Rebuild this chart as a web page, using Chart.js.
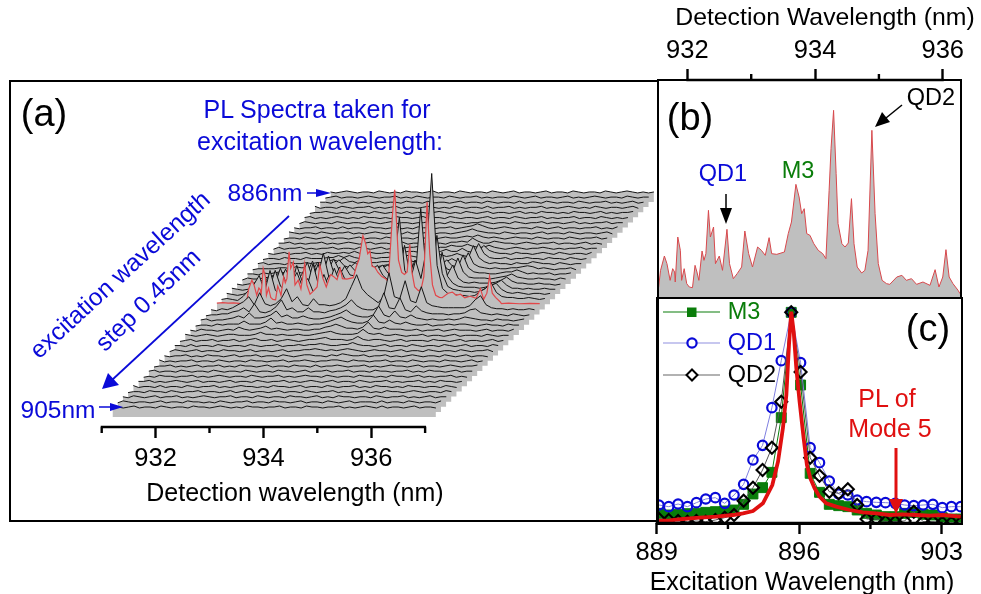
<!DOCTYPE html>
<html>
<head>
<meta charset="utf-8">
<title>PL spectra</title>
<script src="https://cdn.jsdelivr.net/npm/chart.js@4"></script>
<style>
  html, body { margin: 0; background: #fff; }
  #page { position: relative; width: 981px; height: 594px; overflow: hidden; font-family: "Liberation Sans", Arial, sans-serif; }
  #page canvas { position: absolute; }
  .frame { position: absolute; border: 2.7px solid #000; box-sizing: border-box; }
  .t { position: absolute; white-space: nowrap; transform: translate(-50%, -50%); line-height: 1; }
  .blue { color: #0a0ad8; }
  .green { color: #0a7d0a; }
  .red { color: #e01010; }
  svg { position: absolute; left: 0; top: 0; }
</style>
</head>
<body>
<div id="page">
  <canvas id="chartA" style="left:0;top:0"></canvas>
  <canvas id="chartB" style="left:620px;top:0"></canvas>
  <canvas id="chartC" style="left:620px;top:280px"></canvas>

  <div class="frame" style="left:9px;top:80px;width:650px;height:442px"></div>
  <div class="frame" style="left:657px;top:79px;width:305px;height:220px"></div>
  <div class="frame" style="left:656px;top:297px;width:307px;height:228px"></div>

  <svg width="981" height="594">
    <path d="M307 193H316" stroke="#0a0ad8" stroke-width="1.5"/><path d="M316 189L331 193L316 197z" fill="#0a0ad8"/>
    <path d="M99 407H110" stroke="#0a0ad8" stroke-width="1.5"/><path d="M110 403L123 407L110 411z" fill="#0a0ad8"/>
    <path d="M289 216L112 380" stroke="#0a0ad8" stroke-width="1.8"/><path d="M102 389L108 373L119 385z" fill="#0a0ad8"/>
    <path d="M726 194V210" stroke="#000" stroke-width="1.5"/><path d="M720 208H732L726 224z" fill="#000"/>
    <path d="M902 105L886 118" stroke="#000" stroke-width="1.5"/><path d="M875 127L882 112L890 122z" fill="#000"/>
    <path d="M896 448V500" stroke="#e01010" stroke-width="3"/><path d="M889 499H903L896 514z" fill="#e01010"/>
    <path d="M663 312H720" stroke="#0a7d0a" stroke-width="1.2"/><rect x="687" y="307.5" width="9.5" height="9.5" fill="#0a7d0a"/>
    <path d="M663 343H720" stroke="#8f8fe0" stroke-width="1.2"/><circle cx="692" cy="343" r="4.6" fill="#fff" stroke="#0a0ad8" stroke-width="2.2"/>
    <path d="M663 375H720" stroke="#666" stroke-width="1.2"/><path d="M692 369.5L697.5 375L692 380.5L686.5 375z" fill="#fff" stroke="#000" stroke-width="2"/>
  </svg>

  <div class="t" style="left:44px;top:113px;font-size:38px">(a)</div>
  <div class="t blue" style="left:317px;top:109px;font-size:25px">PL Spectra taken for</div>
  <div class="t blue" style="left:320px;top:141px;font-size:25px">excitation wavelength:</div>
  <div class="t blue" style="left:265px;top:193px;font-size:24.5px">886nm</div>
  <div class="t blue" style="left:58px;top:410px;font-size:24.5px">905nm</div>
  <div class="t blue" style="left:120px;top:275px;font-size:24.5px;transform:translate(-50%,-50%) rotate(-42.5deg)">excitation wavelength</div>
  <div class="t blue" style="left:148px;top:300px;font-size:24.5px;transform:translate(-50%,-50%) rotate(-44deg)">step 0.45nm</div>
  <div class="t" style="left:295px;top:492px;font-size:25px">Detection wavelength (nm)</div>

  <div class="t" style="left:825px;top:17px;font-size:24.8px">Detection Wavelength (nm)</div>
  <div class="t" style="left:690px;top:117px;font-size:38px">(b)</div>
  <div class="t blue" style="left:723px;top:174px;font-size:23.5px">QD1</div>
  <div class="t green" style="left:798px;top:171px;font-size:23.5px">M3</div>
  <div class="t" style="left:931px;top:98px;font-size:23.5px">QD2</div>

  <div class="t" style="left:928px;top:328px;font-size:38px">(c)</div>
  <div class="t green" style="left:744px;top:312px;font-size:23.5px">M3</div>
  <div class="t blue" style="left:752px;top:343px;font-size:23.5px">QD1</div>
  <div class="t" style="left:752px;top:375px;font-size:23.5px">QD2</div>
  <div class="t red" style="left:887px;top:398px;font-size:25px">PL of</div>
  <div class="t red" style="left:890px;top:428px;font-size:25px">Mode 5</div>
  <div class="t" style="left:802px;top:581px;font-size:25px">Excitation Wavelength (nm)</div>
</div>

<script>
// detection wavelength grid of the waterfall rows (nm)
const detectionWl = [
  931.2,931.3,931.4,931.5,931.6,931.7,931.8,931.9,932.0,932.1,
  932.2,932.3,932.4,932.5,932.6,932.7,932.8,932.9,933.0,933.1,
  933.2,933.3,933.4,933.5,933.6,933.7,933.8,933.9,934.0,934.1,
  934.2,934.3,934.4,934.5,934.6,934.7,934.8,934.9,935.0,935.1,
  935.2,935.3,935.4,935.5,935.6,935.7,935.8,935.9,936.0,936.1,
  936.2,936.3,936.4,936.5,936.6,936.7,936.8,936.9,937.0,937.1,
  937.2
];

// rows behind the red spectrum, 886 nm first
const backRows = [
  [1,0,1,2,1,0,1,1,0,2, 1,0,1,0,2,1,1,0,1,2, 0,1,1,0,2,1,0,1,1,0, 2,1,0,1,2,0,1,1,0,1, 2,0,1,1,0,2,1,0,1,1, 0,2,1,0,1,2,1,0,1,0, 1],
  [0,1,2,0,1,1,0,1,2,1, 0,1,1,2,0,1,0,2,1,0, 1,1,0,2,1,0,1,1,2,0, 1,0,1,1,0,2,1,0,1,2, 0,1,1,0,1,2,0,1,0,1, 2,1,0,1,1,0,2,1,0,1, 1],
  [1,1,0,2,0,1,2,0,1,0, 1,2,0,1,1,0,2,1,1,0, 2,0,1,1,0,1,2,0,1,1, 0,2,1,0,1,1,0,2,0,1, 1,0,2,1,0,1,1,0,2,1, 0,1,1,2,0,1,0,1,2,0, 1],
  [2,0,1,1,0,2,1,0,1,1, 2,0,1,0,1,2,0,1,1,0, 1,2,1,0,1,0,2,1,0,1, 1,0,2,0,1,1,2,0,1,0, 1,1,2,0,1,0,1,2,1,0, 1,0,2,1,0,1,1,0,1,2, 0],
  [0,1,1,2,1,0,1,0,2,1, 1,0,2,1,0,1,1,0,2,0, 1,1,0,1,2,1,0,1,0,2, 1,0,1,2,0,1,1,0,1,2, 0,1,0,2,1,1,0,1,0,2, 1,1,0,1,2,0,1,0,1,1, 2],
  [1,2,0,1,0,1,2,1,0,1, 0,2,1,1,0,1,0,2,1,1, 0,1,2,0,1,1,0,2,1,0, 1,1,0,1,2,0,1,1,0,2, 1,0,1,1,2,0,1,0,1,1, 2,0,1,1,0,2,1,0,1,0, 1],
  [0,2,1,0,1,1,0,2,1,0, 1,1,0,2,1,0,1,2,0,1, 1,0,1,1,2,0,1,0,2,1, 1,0,1,1,2,1,0,1,1,0, 2,1,0,1,1,2,0,1,1,0, 1,2,0,1,0,1,1,2,0,1, 1],
  [1,0,1,1,2,0,1,1,0,2, 0,1,1,0,2,1,1,0,1,2, 0,1,0,2,1,1,0,1,1,2, 0,1,2,3,5,3,1,0,1,2, 1,0,1,1,0,2,1,0,1,2, 0,1,1,0,1,1,2,0,1,0, 2],
  [2,1,0,1,1,0,2,1,0,1, 1,2,0,1,0,1,2,1,0,1, 1,0,2,0,1,1,2,0,1,1, 0,1,2,3,5,3,2,1,1,0, 2,1,0,1,1,0,1,2,0,1, 1,0,2,1,0,1,1,0,1,2, 0],
  [0,1,1,0,2,1,0,1,2,0, 1,1,0,1,2,0,1,1,0,2, 1,0,1,1,0,2,1,1,0,1, 2,1,1,2,3,2,4,2,1,2, 1,0,1,2,1,1,0,2,1,0, 1,1,0,2,1,0,1,1,2,0, 1],
  [1,1,2,0,1,0,1,1,2,0, 1,0,1,2,1,0,1,2,0,1, 1,0,1,2,0,1,1,0,2,1, 1,0,2,2,3,2,6,3,1,1, 3,2,1,1,0,1,2,1,0,1, 1,2,0,1,1,0,1,2,0,1, 0],
  [0,2,0,1,1,2,0,1,0,1, 1,2,0,1,1,0,2,1,0,1, 2,0,1,1,1,2,2,3,2,2, 1,2,2,4,3,3,5,3,2,2, 4,2,1,0,1,2,1,0,1,1, 2,1,0,1,0,1,1,2,0,1, 1],
  [1,0,1,2,0,1,1,2,0,1, 0,2,1,1,2,1,3,1,1,2, 1,1,2,1,2,2,3,3,2,2, 2,2,3,5,3,3,6,3,2,3, 9,4,2,1,1,0,2,1,1,0, 1,2,1,0,2,1,0,1,1,0, 2],
  [0,1,1,0,2,1,1,0,2,1, 1,1,2,2,4,2,4,2,1,3, 2,1,2,2,3,3,4,4,3,2, 2,3,3,5,3,4,6,4,3,5, 16,6,2,1,1,2,0,1,1,2, 1,1,0,2,1,1,0,2,1,0, 1],
  [1,2,0,1,1,0,2,1,1,2, 1,2,2,3,5,3,7,3,2,5, 3,2,2,3,3,4,5,6,4,3, 3,3,4,5,3,3,6,3,2,6, 19,7,3,1,2,1,1,0,2,1, 1,3,2,1,1,0,2,1,0,1, 1],
  [0,1,1,1,1,2,2,1,3,2, 2,2,3,4,8,4,10,4,2,7, 3,2,2,3,4,5,7,8,5,4, 3,4,5,8,5,4,10,4,3,6, 17,6,3,2,1,2,1,1,2,2, 3,4,3,1,2,1,0,1,1,2, 0],
  [1,1,0,2,1,2,3,2,5,3, 2,2,4,6,12,5,16,5,3,10, 4,3,3,4,5,7,9,12,7,5, 4,5,6,12,6,6,15,6,4,7, 20,7,3,2,2,1,1,2,3,3, 5,3,1,2,1,1,2,0,1,1, 2],
  [0,2,1,1,2,3,5,7,3,12, 4,3,5,9,18,7,24,7,4,14, 5,4,3,4,6,10,12,15,9,6, 5,6,8,18,8,9,22,7,5,8, 22,8,3,2,2,2,1,2,3,4, 6,3,2,1,1,2,1,1,0,2, 1],
  [1,0,1,2,3,4,7,10,4,16, 5,4,6,12,24,9,32,9,5,18, 6,5,4,5,8,13,16,20,12,8, 6,8,10,25,10,12,30,9,6,10, 20,7,3,2,3,2,2,2,3,5, 8,4,2,2,1,1,2,1,1,0, 1],
  [2,1,0,1,3,6,9,14,6,22, 8,5,8,16,28,12,26,9,7,22, 8,6,5,6,9,15,20,25,15,10, 8,10,14,35,14,18,50,14,9,38, 14,7,4,3,3,3,2,3,5,7, 10,5,2,2,1,2,1,1,2,1, 1],
  [2,1,0,1,3,7,12,18,8,25, 9,5,9,30,14,10,32,11,9,20, 10,8,8,9,13,18,24,30,22,16, 14,13,22,50,20,18,87,25,18,60, 22,9,6,5,4,4,3,4,7,10, 12,6,3,2,3,2,1,2,2,1, 2],
  [1,2,1,0,4,10,16,25,9,30, 10,6,10,18,28,14,22,9,12,26, 12,8,9,12,16,22,30,40,28,20, 16,18,35,83,30,20,40,22,50,127, 35,12,7,6,5,5,4,5,9,12, 18,8,4,3,3,2,2,3,2,1, 2]
];

// rows in front of the red spectrum, first the one just before it, 905 nm last
const frontRows = [
  [1,0,2,1,3,6,9,14,6,18, 7,5,7,12,22,9,14,6,5,12, 6,6,5,6,8,12,24,36,22,16, 12,8,14,38,14,12,30,10,8,24, 8,5,4,3,3,3,3,3,5,11, 15,6,3,2,2,1,2,1,1,2, 1],
  [0,1,1,2,2,4,5,8,4,12, 4,3,5,9,16,6,8,4,4,8, 4,4,3,5,6,8,11,16,10,7, 6,6,9,23,8,7,18,6,4,10, 5,3,2,2,2,1,2,2,3,6, 7,3,2,1,2,1,0,2,1,0, 1],
  [1,2,0,1,1,2,3,5,3,8, 3,3,4,6,10,4,6,3,3,5, 3,2,2,3,4,6,8,11,7,5, 4,4,6,15,6,4,10,4,3,6, 3,2,1,2,1,1,2,1,2,4, 3,2,1,1,0,2,1,1,0,1, 2],
  [0,1,1,0,2,1,2,2,2,5, 2,2,2,4,8,3,4,2,2,3, 2,1,2,2,3,5,7,9,6,4, 3,3,5,11,4,3,6,3,2,4, 2,1,1,2,0,1,1,2,1,2, 2,1,0,1,2,1,1,0,2,1, 1],
  [1,0,2,1,1,0,1,2,1,4, 2,1,2,3,5,2,3,2,1,2, 2,1,1,2,2,4,5,7,5,3, 3,2,4,9,3,2,4,2,2,2, 1,1,2,0,1,1,2,0,1,2, 1,1,1,0,1,2,0,1,1,0, 2],
  [2,1,0,1,2,1,0,1,2,2, 1,1,1,2,4,2,2,1,2,1, 1,2,1,1,2,3,4,5,3,2, 2,2,3,7,3,2,3,1,1,2, 1,0,1,1,2,0,1,1,0,1, 2,0,1,1,1,0,2,1,0,1, 1],
  [0,1,2,0,1,1,2,0,1,1, 2,0,1,2,3,1,1,2,0,1, 2,1,0,1,2,2,3,4,2,2, 2,1,2,5,2,1,2,2,1,0, 1,2,0,1,1,1,0,2,1,1, 0,1,2,0,1,1,0,1,2,0, 1],
  [1,1,0,2,0,1,1,0,2,1, 0,1,1,0,2,1,0,1,1,2, 0,1,1,2,1,2,2,3,2,1, 1,2,2,4,2,1,1,0,1,2, 0,1,1,0,2,1,0,1,1,0, 2,1,0,1,2,0,1,1,0,2, 1],
  [0,2,1,0,1,2,0,1,1,0, 2,1,1,0,1,2,0,1,1,0, 1,2,0,1,1,2,2,3,2,1, 2,1,2,3,2,1,0,1,2,1, 1,0,1,2,0,1,1,0,2,1, 0,1,1,0,2,1,0,1,1,2, 0],
  [1,0,1,1,2,0,1,0,2,1, 1,0,1,2,0,1,1,2,0,1, 1,0,2,1,0,1,2,2,1,1, 0,2,1,3,2,1,1,2,0,1, 1,2,0,1,0,1,2,1,0,1, 1,0,2,1,0,1,2,0,1,1, 0],
  [2,0,1,0,1,1,2,0,1,1, 0,2,1,0,1,1,0,2,1,1, 0,1,1,2,0,1,1,2,1,0, 1,1,2,2,1,0,2,1,1,0, 1,1,2,0,1,1,0,2,1,0, 1,1,0,2,1,1,0,1,2,0, 1],
  [0,1,1,2,0,1,0,1,2,0, 1,1,2,0,1,0,2,1,1,0, 1,2,0,1,1,0,2,1,1,0, 2,0,1,1,2,1,0,1,1,2, 0,1,0,1,2,1,1,0,1,2, 0,1,1,0,1,2,1,0,1,1, 2],
  [1,2,0,1,1,0,2,1,0,1, 1,0,2,1,0,1,1,0,2,1, 0,1,1,0,2,1,1,0,1,2, 0,1,1,2,0,1,1,2,0,1, 1,0,2,1,1,0,1,1,2,0, 1,0,2,1,1,0,1,2,0,1, 1],
  [0,1,0,2,1,1,0,1,1,2, 0,1,0,1,2,1,0,1,1,0, 2,1,0,1,1,2,0,1,0,1, 2,1,1,0,2,1,0,1,1,0, 2,1,1,0,1,0,2,1,1,0, 1,2,0,1,0,1,1,2,0,1, 0],
  [1,1,2,0,1,0,1,2,1,0, 1,2,0,1,1,0,1,2,0,1, 1,0,2,1,0,1,1,2,0,1, 0,1,2,1,0,1,2,0,1,1, 0,2,1,0,1,1,2,0,1,0, 1,1,2,0,1,0,2,1,1,0, 1],
  [2,0,1,1,0,2,0,1,1,0, 2,1,0,1,1,2,0,1,0,1, 2,1,1,0,1,0,2,1,1,0, 1,2,0,1,1,0,2,1,0,1, 1,2,0,1,0,2,1,1,0,1, 0,2,1,1,0,1,1,0,2,1, 0],
  [0,1,1,0,2,1,1,0,2,1, 0,1,1,2,0,1,1,0,1,2, 0,1,2,0,1,1,0,1,2,0, 1,1,0,2,1,0,1,1,2,0, 1,0,1,1,2,0,1,0,2,1, 1,0,1,2,1,0,1,1,0,2, 1],
  [1,0,2,1,0,1,2,0,1,1, 2,0,1,0,1,2,1,0,1,1, 2,0,1,1,0,2,1,0,1,1, 0,2,1,1,0,1,2,0,1,0, 2,1,1,0,1,1,0,2,1,0, 1,1,2,0,1,0,1,2,0,1, 1],
  [0,2,1,0,1,1,0,1,2,0, 1,1,0,2,1,1,0,1,0,2, 1,0,1,1,2,0,1,1,0,2, 1,1,0,1,2,0,1,1,0,2, 1,0,1,2,0,1,1,1,0,2, 0,1,1,0,2,1,0,1,1,0, 2],
  [1,1,0,1,2,0,1,1,0,2, 1,0,1,1,0,2,1,1,0,1, 2,1,0,1,0,2,1,1,0,1, 1,2,0,1,1,0,2,1,1,0, 1,1,2,0,1,0,1,2,1,0, 2,0,1,1,0,1,2,0,1,1, 0],
  [2,0,1,1,2,0,1,0,1,1, 2,0,1,2,0,1,1,0,2,1, 0,1,1,2,0,1,0,2,1,1, 0,1,2,0,1,1,1,0,2,1, 0,1,1,2,0,1,1,0,1,2, 1,0,1,0,2,1,1,0,1,2, 1]
];

// red spectrum (panel b), detection wavelength (nm) and counts
const spectrumWl = [
  931.52,931.55,931.58,931.64,931.68,931.73,931.77,931.80,931.81,931.85,931.89,931.91,931.95,931.99,
  932.03,932.08,932.12,932.15,932.18,932.23,932.26,932.29,932.33,932.36,932.41,932.44,932.50,932.55,
  932.62,932.66,932.72,932.78,932.85,932.90,932.96,933.02,933.10,933.16,933.22,933.28,933.32,933.40,
  933.52,933.58,933.63,933.70,933.75,933.79,933.83,933.87,933.92,933.98,934.05,934.12,934.17,934.22,
  934.25,934.29,934.33,934.36,934.42,934.47,934.52,934.57,934.61,934.66,934.73,934.78,934.83,934.89,
  934.94,934.99,935.05,935.12,935.17,935.28,935.36,935.43,935.51,935.59,935.69,935.80,935.88,935.94,
  936.00,936.05,936.10,936.16,936.24,936.27
];
const spectrumCounts = [
  0,30,80,123,100,50,85,75,45,180,140,50,85,40,
  30,28,95,75,50,138,110,130,260,180,210,100,123,80,
  203,100,55,70,90,198,130,90,150,140,125,178,130,128,
  135,190,225,338,300,250,265,190,185,160,140,130,115,320,
  445,560,370,220,160,150,162,295,160,90,72,80,140,500,
  250,100,50,40,38,60,65,50,55,38,45,35,82,30,
  60,142,60,40,20,10
];
// flat ends of the same spectrum that only panel (a) shows
const leftEndWl = [930.99,931.1,931.2,931.3,931.4,931.5];
const leftEndCounts = [12,14,12,13,11,8];
const rightEndWl = [936.4,936.6,936.8,936.98];
const rightEndCounts = [12,9,11,10];

// panel (c)
const excitationWl = [
  889.11,889.59,890.05,890.51,890.95,891.41,891.88,892.34,892.80,893.27,893.73,
  894.20,894.66,895.12,895.61,896.07,896.54,897.00,897.48,897.94,898.39,898.85,
  899.31,899.79,900.24,900.72,901.18,901.63,902.09,902.57,903.03,903.48,903.94
];
const m3Values = [29,24,26,28,29,32,34,36,39,56,87,106,152,316,632,414,149,92,56,52,49,39,29,24,19,19,29,32,26,24,16,12,12];
const qd1Values = [54,49,57,49,61,72,76,59,84,116,189,233,346,487,632,481,226,181,126,87,84,69,64,62,61,59,54,52,54,56,46,49,49];
const qd2Values = [12,9,6,4,6,4,9,16,24,67,106,159,226,364,632,453,196,142,94,89,101,54,12,12,4,4,6,34,4,4,1,1,1];
const mode5Wl = [
  889.0,889.64,890.29,891.11,891.93,892.75,893.24,893.73,894.22,894.68,894.96,895.2,895.37,895.5,895.61,
  895.73,895.86,896.02,896.22,896.38,896.55,896.76,897.0,897.33,897.82,898.48,899.13,899.79,900.44,901.09,
  901.75,902.4,903.06,903.94
];
const mode5Values = [6,8,12,16,19,24,29,36,59,114,184,284,384,534,634,574,464,364,254,174,134,104,79,59,49,39,32,29,24,26,24,22,24,19];

// tick labels
const ticksA = [931,932,933,934,935,936,937];
const ticksB = [932,933,934,935,936];
const ticksC = [889,892.5,896,899.5,903];
const labelledA = [932,934,936];
const labelledB = [932,934,936];
const labelledC = [889,896,903];

const redRow = 20;        // rows counted from the front
const rowStepX = 0.0963;  // nm per row on the oblique axis
const rowStepY = 5.12;
const stripDepth = 9;
const redShift = 0.22;
const redScale = 0.207;
const grey = '#bfbfbf';
const tickFont = { family: '"Liberation Sans", Arial, sans-serif', size: 25.5 };

Chart.defaults.animation = false;
Chart.defaults.responsive = false;

// short unlabelled ticks and the axis line, the library has one tick length only
const axisMarks = {
  id: 'axisMarks',
  afterDraw(chart) {
    const s = chart.scales.x, c = chart.ctx;
    const y = s.position === 'top' ? s.bottom : s.top;
    const dir = s.position === 'top' ? -1 : 1;
    c.save();
    c.strokeStyle = '#000';
    c.lineWidth = 2.4;
    c.beginPath();
    c.moveTo(s.getPixelForValue(s.ticks[0].value) - 1, y);
    c.lineTo(s.getPixelForValue(s.ticks[s.ticks.length - 1].value) + 1, y);
    s.ticks.forEach(t => {
      if (t.label === '') {
        const x = s.getPixelForValue(t.value);
        c.moveTo(x, y);
        c.lineTo(x, y + dir * 6);
      }
    });
    c.stroke();
    c.restore();
  }
};

function xScale(min, max, ticks, labelled, position, height, pad) {
  return {
    type: 'linear', min, max, position,
    border: { display: false },
    grid: {
      drawOnChartArea: false, tickLength: 11, tickWidth: 2.4,
      tickColor: ctx => labelled.includes(ctx.tick.value) ? '#000' : 'rgba(0,0,0,0)'
    },
    ticks: {
      autoSkip: false, maxRotation: 0, padding: pad, color: '#000', font: tickFont,
      callback: v => labelled.includes(v) ? String(v) : ''
    },
    afterBuildTicks: s => { s.ticks = ticks.map(v => ({ value: v })); },
    afterFit: s => { s.height = height; }
  };
}
function hiddenY(min, max) {
  return { type: 'linear', min, max, display: false };
}
function size(id, w, h) {
  const el = document.getElementById(id);
  el.width = w; el.height = h;
  return el;
}
const zip = (xs, ys) => xs.map((x, i) => ({ x, y: ys[i] }));

// panel (a): the waterfall, front row first so the library paints it last
const stack = [];
const rowAt = f => f > redRow ? backRows[backRows.length - (f - redRow)] : frontRows[redRow - 1 - f];
for (let f = 0; f <= redRow + backRows.length; f++) {
  const level = f * rowStepY;
  if (f === redRow) {
    const wl = leftEndWl.concat(spectrumWl, rightEndWl);
    const counts = leftEndCounts.concat(spectrumCounts, rightEndCounts);
    stack.push({
      data: wl.map((x, i) => ({ x: x + f * rowStepX + redShift, y: level + counts[i] * redScale })),
      borderColor: '#e2474a', borderWidth: 1.2, backgroundColor: grey,
      fill: { value: level - stripDepth }, pointRadius: 0
    });
  } else {
    const row = rowAt(f);
    stack.push({
      data: detectionWl.map((x, i) => ({ x: x + f * rowStepX, y: level + row[i] })),
      borderColor: '#141414', borderWidth: 1, backgroundColor: grey,
      fill: { value: level - stripDepth }, pointRadius: 0
    });
  }
}
new Chart(size('chartA', 660, 510), {
  type: 'line',
  data: { datasets: stack },
  options: {
    layout: { padding: { left: 101.7, top: 100, right: 3.1, bottom: 0 } },
    plugins: { legend: { display: false }, tooltip: { enabled: false } },
    scales: {
      x: xScale(931, 941.3, ticksA, labelledA, 'bottom', 83, 6),
      y: hiddenY(-19, 308)
    }
  },
  plugins: [axisMarks]
});

// panel (b)
new Chart(size('chartB', 361, 300), {
  type: 'line',
  data: { datasets: [{
    data: zip(spectrumWl, spectrumCounts),
    borderColor: '#d8484c', borderWidth: 1, backgroundColor: grey,
    fill: 'origin', pointRadius: 0
  }] },
  options: {
    layout: { padding: { left: 38, top: 0, right: 21, bottom: 3 } },
    plugins: { legend: { display: false }, tooltip: { enabled: false } },
    scales: {
      x: xScale(931.54, 936.27, ticksB, labelledB, 'top', 80, 3),
      y: hiddenY(0, 651)
    }
  },
  plugins: [axisMarks]
});

// panel (c)
function markers(values, line, edge, style, radius, borderWidth, fillColor) {
  return {
    data: zip(excitationWl, values), borderColor: line, borderWidth: 1,
    pointStyle: style, pointRadius: radius, pointBorderColor: edge,
    pointBorderWidth: borderWidth, pointBackgroundColor: fillColor, fill: false
  };
}
new Chart(size('chartC', 361, 314), {
  type: 'line',
  data: { datasets: [
    { data: zip(mode5Wl, mode5Values), borderColor: '#e01010', borderWidth: 3.8, pointRadius: 0, fill: false },
    markers(qd2Values, '#555', '#000', 'rectRot', 6, 2.1, 'rgba(0,0,0,0)'),
    markers(qd1Values, '#7f7fe0', '#0a0ad8', 'circle', 4.7, 2.2, 'rgba(0,0,0,0)'),
    markers(m3Values, '#0a7d0a', '#0a7d0a', 'rect', 7, 1, '#0a7d0a')
  ] },
  options: {
    layout: { padding: { left: 36.7, top: 18, right: 19, bottom: 0 } },
    plugins: { legend: { display: false }, tooltip: { enabled: false } },
    scales: {
      x: xScale(889, 904, ticksC, labelledC, 'bottom', 71, 4),
      y: hiddenY(0, 675)
    }
  },
  plugins: [axisMarks]
});
</script>
</body>
</html>
